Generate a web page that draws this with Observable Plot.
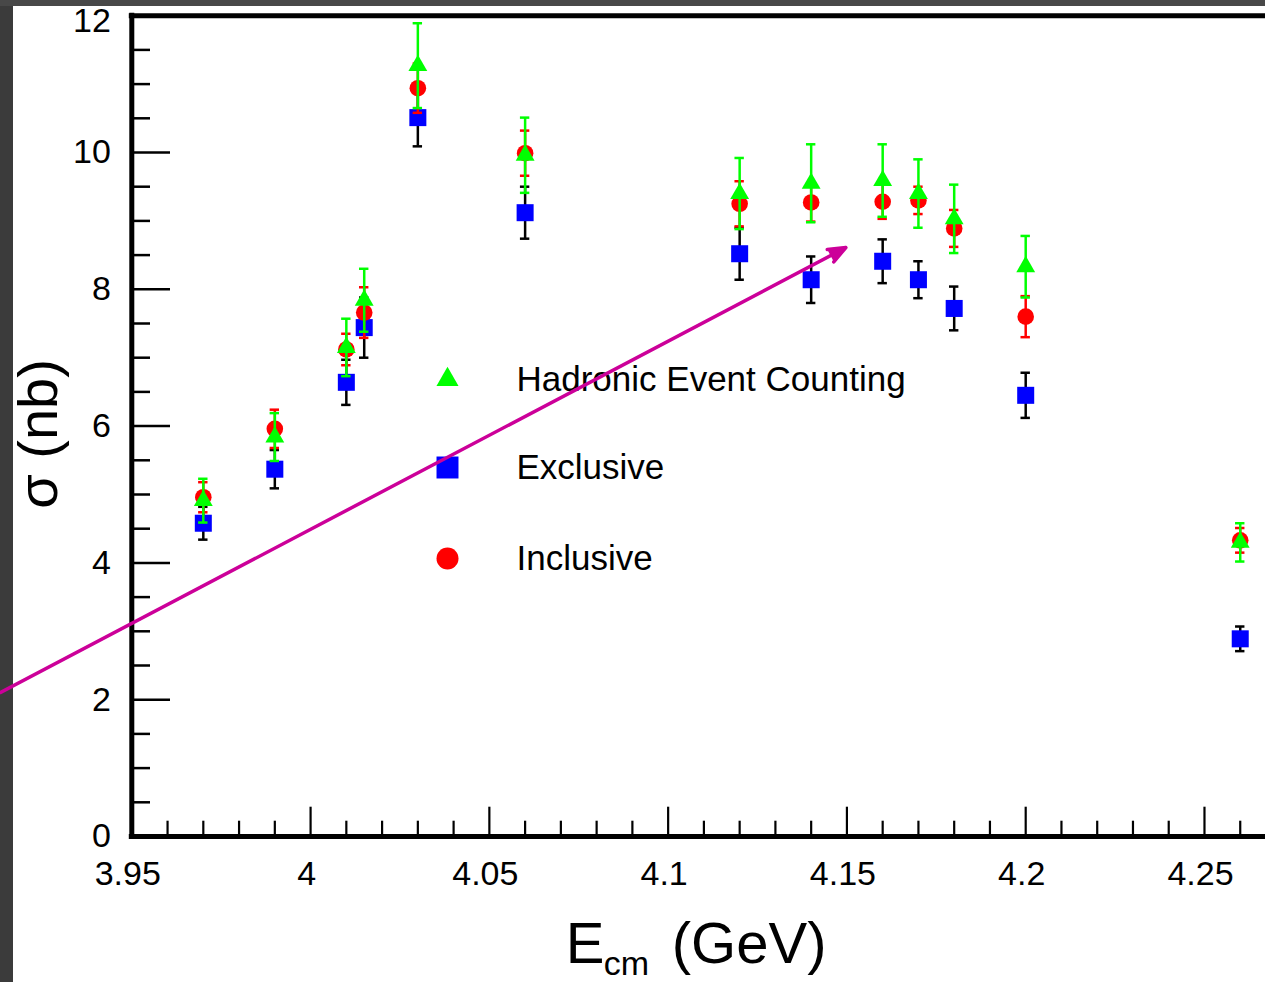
<!DOCTYPE html>
<html>
<head>
<meta charset="utf-8">
<script src="https://cdn.jsdelivr.net/npm/d3@7"></script>
<script src="https://cdn.jsdelivr.net/npm/@observablehq/plot@0.6"></script>
<style>
  html, body { margin: 0; padding: 0; }
  body { width: 1265px; height: 982px; background: #3b3b3b; position: relative; overflow: hidden; }
  #topband { position: absolute; left: 0; top: 0; width: 1265px; height: 6px; background: #484848; }
  #panel { position: absolute; left: 13px; top: 6px; right: 0; bottom: 0; background: #ffffff; }
  #chart { position: absolute; left: 0; top: 0; }
</style>
</head>
<body>
<div id="topband"></div>
<div id="panel"></div>
<div id="chart"></div>
<script>
// Centre-of-mass energies (GeV) of the scan points
const energies = [3.97, 3.99, 4.01, 4.015, 4.03, 4.06, 4.12, 4.14, 4.16, 4.17, 4.18, 4.2, 4.26];

// Cross sections (nb) and their uncertainties for each method
const hadronic    = [4.91, 5.84, 7.15, 7.84, 11.27, 9.96, 9.40, 9.55, 9.59, 9.40, 9.03, 8.33, 4.30];
const hadronicErr = [0.32, 0.35, 0.42, 0.46, 0.62, 0.55, 0.52, 0.57, 0.53, 0.50, 0.50, 0.45, 0.28];
const exclusive    = [4.58, 5.37, 6.64, 7.44, 10.51, 9.12, 8.52, 8.14, 8.41, 8.14, 7.72, 6.45, 2.89];
const exclusiveErr = [0.24, 0.28, 0.33, 0.44, 0.42, 0.38, 0.38, 0.34, 0.32, 0.27, 0.32, 0.33, 0.18];
const inclusive    = [4.96, 5.96, 7.12, 7.66, 10.94, 9.99, 9.25, 9.27, 9.28, 9.30, 8.89, 7.60, 4.33];
const inclusiveErr = [0.22, 0.28, 0.23, 0.37, 0.36, 0.33, 0.33, 0.28, 0.25, 0.20, 0.27, 0.30, 0.18];

const legendLabels = ["Hadronic Event Counting", "Exclusive", "Inclusive"];

// Axis ticks
const xMajor = [3.95, 4, 4.05, 4.1, 4.15, 4.2, 4.25];
const xMinor = d3.range(395, 427).filter(i => i % 5 !== 0).map(i => i / 100);
const yMajor = [0, 2, 4, 6, 8, 10, 12];
const yMinor = d3.range(0, 25).filter(i => i % 4 !== 0).map(i => i / 2);

// Annotation arrow (start, end) in data coordinates
const arrowStart = [3.9133, 2.105];
const arrowEnd = [4.1497, 8.61];

const W = 1265, H = 982;
const M = {left: 131.3, right: 0, top: 15.2, bottom: 146};
const plotW = W - M.left - M.right;
const plotH = H - M.top - M.bottom;
const FONT = "'Liberation Sans', Arial, Helvetica, sans-serif";

const rows = (values, errors) => energies.map((x, i) => ({x, y: values[i], e: errors[i]}));
const hadronicRows = rows(hadronic, hadronicErr);
const exclusiveRows = rows(exclusive, exclusiveErr);
const inclusiveRows = rows(inclusive, inclusiveErr);

// vertical error bar with small horizontal caps
function errorBars(data, color) {
  const common = {stroke: color, strokeWidth: 2.5};
  return [
    Plot.ruleX(data, {x: "x", y1: d => d.y - d.e, y2: d => d.y + d.e, ...common}),
    Plot.ruleY(data, {y: d => d.y + d.e, x1: "x", x2: "x", insetLeft: -4.7, insetRight: -4.7, ...common}),
    Plot.ruleY(data, {y: d => d.y - d.e, x1: "x", x2: "x", insetLeft: -4.7, insetRight: -4.7, ...common})
  ];
}

const series = [
  {label: legendLabels[0], symbol: "triangle", fill: "#00ff00", r: 7, legendR: 8.2, legendDy: 363.8},
  {label: legendLabels[1], symbol: "square",   fill: "#0000ff", r: 9.6, legendR: 12.4, legendDy: 451.8},
  {label: legendLabels[2], symbol: "circle",   fill: "#ff0000", r: 8.3, legendR: 11,   legendDy: 542.8}
];

const legendMarks = series.flatMap(s => [
  Plot.dot([s], {frameAnchor: "top-left", dx: 315.7, dy: s.legendDy, symbol: s.symbol, r: s.legendR, fill: s.fill}),
  Plot.text([s.label], {frameAnchor: "top-left", dx: 384.7, dy: s.legendDy + 11, text: d => d,
    textAnchor: "start", lineAnchor: "bottom", fontSize: 35, fill: "black"})
]);

const tickLabel = d => String(d);

const chart = Plot.plot({
  width: W,
  height: H,
  marginLeft: M.left,
  marginRight: M.right,
  marginTop: M.top,
  marginBottom: M.bottom,
  style: {background: "transparent", fontFamily: FONT, overflow: "visible", color: "black"},
  x: {domain: [3.95, 3.95 + plotW / 178.78 * 0.05], axis: null},
  y: {domain: [0, 12], axis: null},
  marks: [
    // inward ticks
    Plot.tickY(yMinor, {insetRight: plotW - 18.7, stroke: "black", strokeWidth: 2.5}),
    Plot.tickY(yMajor, {insetRight: plotW - 38.7, stroke: "black", strokeWidth: 2.5}),
    Plot.tickX(xMinor, {insetTop: plotH - 15.3, stroke: "black", strokeWidth: 2.2}),
    Plot.tickX(xMajor, {insetTop: plotH - 29.3, stroke: "black", strokeWidth: 2.2}),
    // frame lines
    Plot.ruleY([12], {stroke: "black", strokeWidth: 5, insetLeft: -2.5}),
    Plot.ruleY([0], {stroke: "black", strokeWidth: 5, insetLeft: -2.5}),
    Plot.ruleX([3.95], {stroke: "black", strokeWidth: 5, insetTop: -2.5, insetBottom: -2.5}),
    // tick labels (the top one is nudged down to stay inside the panel)
    Plot.axisY({ticks: yMajor.slice(0, -1), tickSize: 0, tickPadding: 21, fontSize: 34, tickFormat: tickLabel, label: null}),
    Plot.axisY({ticks: yMajor.slice(-1), tickSize: 0, tickPadding: 21, fontSize: 34, tickFormat: tickLabel, label: null, dy: 5}),
    Plot.axisX({ticks: xMajor, tickSize: 0, tickPadding: 24, fontSize: 34, tickFormat: tickLabel, label: null, dx: -4}),
    // axis titles
    Plot.text(["σ (nb)"], {frameAnchor: "left", dx: -75.3, dy: 7.9, rotate: -90, text: d => d,
      textAnchor: "middle", lineAnchor: "bottom", fontSize: 56, fill: "black"}),
    Plot.text(["E"], {frameAnchor: "bottom-left", dx: 434, dy: 126, text: d => d,
      textAnchor: "start", lineAnchor: "bottom", fontSize: 58, fill: "black"}),
    Plot.text(["cm"], {frameAnchor: "bottom-left", dx: 472, dy: 138, text: d => d,
      textAnchor: "start", lineAnchor: "bottom", fontSize: 34, fill: "black"}),
    Plot.text(["(GeV)"], {frameAnchor: "bottom-left", dx: 540, dy: 126, text: d => d,
      textAnchor: "start", lineAnchor: "bottom", fontSize: 58, fill: "black"}),
    // data: exclusive, inclusive, hadronic event counting
    ...errorBars(exclusiveRows, "black"),
    Plot.dot(exclusiveRows, {x: "x", y: "y", symbol: "square", r: series[1].r, fill: series[1].fill}),
    ...errorBars(inclusiveRows, "#ff0000"),
    Plot.dot(inclusiveRows, {x: "x", y: "y", symbol: "circle", r: series[2].r, fill: series[2].fill}),
    ...errorBars(hadronicRows, "#00ff00"),
    Plot.dot(hadronicRows, {x: "x", y: "y", symbol: "triangle", r: series[0].r, fill: series[0].fill}),
    // legend
    ...legendMarks,
    // annotation arrow
    Plot.arrow([{from: arrowStart, to: arrowEnd}], {
      x1: d => d.from[0], y1: d => d.from[1], x2: d => d.to[0], y2: d => d.to[1],
      stroke: "#cc0099", fill: "#cc0099", strokeWidth: 3.5, headLength: 8, headAngle: 44
    })
  ]
});

document.getElementById("chart").appendChild(chart);
</script>
</body>
</html>
